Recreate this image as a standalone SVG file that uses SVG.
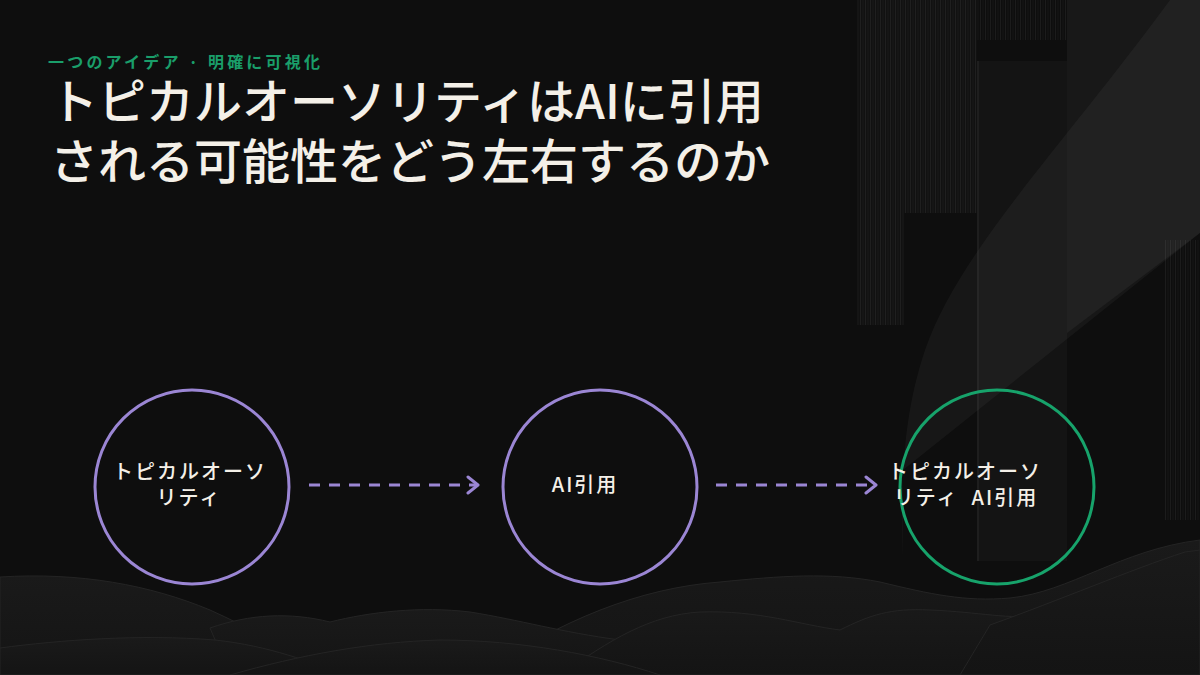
<svg xmlns="http://www.w3.org/2000/svg" width="1200" height="675" viewBox="0 0 1200 675">
  <defs>
    <pattern id="stripes" width="5" height="10" patternUnits="userSpaceOnUse">
      <rect x="0" y="0" width="1" height="10" fill="#ffffff" fill-opacity="0.06"/>
      <rect x="2.5" y="0" width="1" height="10" fill="#ffffff" fill-opacity="0.03"/>
    </pattern>
    <linearGradient id="hillG" x1="0" y1="0" x2="0" y2="1">
      <stop offset="0" stop-color="#1a1a1a"/>
      <stop offset="1" stop-color="#141414"/>
    </linearGradient>
    <marker id="arrow" viewBox="0 0 14 20" refX="12" refY="10" markerWidth="14" markerHeight="20" markerUnits="userSpaceOnUse" orient="auto">
      <path d="M2,2 L12,10 L2,18" fill="none" stroke="#9b86d4" stroke-width="3" stroke-linecap="round" stroke-linejoin="round"/>
    </marker>
    <style>
      .title { font-family: "Noto Sans CJK JP", "Noto Sans", sans-serif; font-size: 48px; font-weight: 500; fill: #f4f0e8; }
      .sub { font-family: "Noto Sans CJK JP", "Noto Sans", sans-serif; font-size: 16px; font-weight: 700; fill: #1a9e6a; letter-spacing: 3.2px; }
      .label { font-family: "Noto Sans CJK JP", "Noto Sans", sans-serif; font-size: 20px; font-weight: 500; fill: #f4f0e8; text-anchor: middle; letter-spacing: 2px; }
      .ring { fill: none; stroke-width: 3; }
      .purple { stroke: #9b86d4; }
      .green { stroke: #17a36b; }
      .conn { fill: none; stroke: #9b86d4; stroke-width: 3; stroke-dasharray: 11 9; }
      .hill { fill: url(#hillG); stroke: #242424; stroke-width: 1; }
    </style>
  </defs>

  <g id="background">
    <rect x="0" y="0" width="1200" height="675" fill="#0e0e0e"/>
    <rect x="857" y="0" width="47" height="325" fill="#111111"/>
    <rect x="857" y="0" width="47" height="325" fill="url(#stripes)"/>
    <rect x="904" y="0" width="73" height="213" fill="#111111"/>
    <rect x="904" y="0" width="73" height="213" fill="url(#stripes)"/>
    <rect x="977" y="0" width="90" height="40" fill="url(#stripes)"/>
    <rect x="977" y="61" width="90" height="500" fill="#141414"/>
    <rect x="977" y="61" width="2" height="500" fill="#1e1e1e"/>
    <polygon points="1067,0 1200,0 1200,233 1067,333" fill="#181818"/>
    <rect x="1165" y="240" width="35" height="280" fill="url(#stripes)"/>
    <path d="M1170,0 C1060,150 960,250 925,350 C905,410 900,470 903,560 L903,470 L1200,233 L1200,0 Z" fill="#ffffff" fill-opacity="0.04"/>
    <path class="hill" d="M480,675 C560,620 640,588 720,582 C780,576 830,572 880,582 C930,594 965,602 1010,598 C1070,592 1120,550 1200,540 L1200,675 Z"/>
    <path class="hill" d="M0,577 C80,572 150,585 210,610 C250,628 285,648 330,675 L0,675 Z"/>
    <path class="hill" d="M210,628 C250,614 290,612 330,622 C370,612 420,606 470,612 C520,620 560,632 620,640 L640,675 L230,675 Z"/>
    <path class="hill" d="M560,675 C610,640 650,615 700,612 C760,610 800,625 840,630 C870,615 890,608 930,610 C980,612 1010,620 1040,615 C1090,608 1130,600 1200,605 L1200,675 Z"/>
    <path class="hill" d="M0,648 C60,640 140,634 215,640 C270,646 310,662 345,675 L0,675 Z"/>
    <path class="hill" d="M230,675 C300,655 370,642 440,640 C520,640 600,655 660,675 Z"/>
    <path class="hill" d="M990,625 C1060,600 1130,570 1185,552 L1200,550 L1200,675 L960,675 Z"/>
  </g>

  <g id="header">
    <text class="sub" x="48" y="68">一つのアイデア · 明確に可視化</text>
    <text class="title" x="50" y="119">トピカルオーソリティはAIに引用</text>
    <text class="title" x="50" y="179">される可能性をどう左右するのか</text>
  </g>

  <g id="connectors">
    <line class="conn" x1="309" y1="485" x2="478" y2="485" marker-end="url(#arrow)"/>
    <line class="conn" x1="716" y1="485" x2="876" y2="485" marker-end="url(#arrow)"/>
  </g>

  <g id="node-topical">
    <circle class="ring purple" cx="192" cy="487" r="97"/>
    <text class="label" x="190" y="479">トピカルオーソ</text>
    <text class="label" x="189" y="505">リティ</text>
  </g>

  <g id="node-ai">
    <circle class="ring purple" cx="600" cy="487" r="97"/>
    <text class="label" x="585" y="492">AI引用</text>
  </g>

  <g id="node-result">
    <circle class="ring green" cx="997" cy="487" r="97"/>
    <text class="label" x="965" y="479">トピカルオーソ</text>
    <text class="label" x="966" y="505" xml:space="preserve">リティ  AI引用</text>
  </g>
</svg>
